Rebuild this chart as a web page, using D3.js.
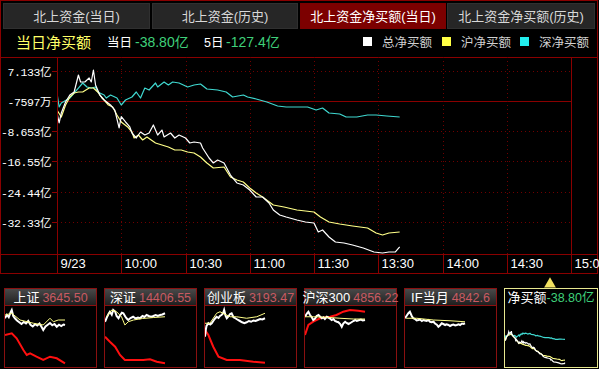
<!DOCTYPE html>
<html><head><meta charset="utf-8">
<script src="https://cdn.jsdelivr.net/npm/d3@7"></script>
<style>
html,body{margin:0;padding:0;background:#000;overflow:hidden}
svg{display:block}
</style></head><body>
<svg id="c" width="599" height="369"></svg>
<script>
// ---- tabs / header ----
const tabNames = ["北上资金(当日)", "北上资金(历史)", "北上资金净买额(当日)", "北上资金净买额(历史)"];
const activeTab = 2;
const titleText = "当日净买额";
const todayNet = -38.80;   // 亿
const fiveDayNet = -127.4; // 亿
const legendNames = ["总净买额", "沪净买额", "深净买额"];

// ---- axes ----
const timeTicks = [0, 30, 60, 90, 120, 150, 180, 210, 240]; // trading minutes from 9:30
const timeLabels = ["9/23", "10:00", "10:30", "11:00", "11:30", "13:30", "14:00", "14:30", "15:00"];
const yTicks = [7.133, -0.7597, -8.653, -16.55, -24.44, -32.33]; // 亿
const yTickLabels = ["7.133亿", "-7597万", "-8.653亿", "-16.55亿", "-24.44亿", "-32.33亿"];

// ---- net buy series (亿), minute offsets from 9:30 ----
const totalMin = [0,1,2,4,6,8,10,11,13,15,16,17,18,20,22,25,27,29,30,32,34,35,37,39,41,43,45,47,49,50,53,55,57,60,62,64,67,68,71,73,75,78,81,84,87,90,93,96,99,101,104,107,112,116,120,122,124,127,130,134,138,143,148,152,155,158,160];
const totalVal = [-3.94,-6.54,-3.94,-1.07,0.75,1.53,5.96,4.14,4.14,5.18,4.14,7.26,3.36,0.75,-0.55,-1.85,-3.16,-7.84,-4.9,-6.28,-7.58,-9.15,-10.45,-8.89,-9.67,-9.15,-7.06,-9.67,-8.37,-10.19,-9.15,-10.45,-9.67,-10.45,-11.75,-11.49,-11.75,-13.05,-15.66,-16.96,-16.18,-16.96,-20.09,-22.17,-22.69,-23.99,-25.82,-25.82,-27.38,-29.2,-30.51,-31.03,-31.81,-32.33,-32.59,-34.93,-34.41,-36.23,-37.54,-37.8,-38.32,-39.1,-40.14,-40.4,-40.14,-40.14,-38.80];
const shMin = [0,2,4,6,8,10,12,15,17,19,21,22,24,26,28,30,33,35,36,38,40,42,44,46,49,52,55,58,61,64,67,70,73,78,81,84,87,90,93,96,101,106,112,120,123,127,132,138,145,149,152,155,160];
const shVal = [-3.16,-4.98,-1.85,0.23,1.27,1.53,1.53,2.57,2.57,1.53,-0.03,-0.55,-1.85,-2.37,-4.46,-6.28,-7.58,-8.89,-10.45,-9.67,-10.97,-10.19,-10.97,-11.75,-12.27,-12.79,-13.58,-13.58,-14.1,-14.36,-15.4,-16.96,-18.26,-18.0,-20.61,-21.39,-21.91,-23.47,-24.78,-25.82,-27.9,-28.42,-29.2,-29.72,-31.03,-32.33,-32.85,-33.37,-33.89,-35.19,-35.71,-35.19,-34.93];
const szMin = [0,1,2,6,8,10,12,14,16,18,19,22,23,25,28,30,32,35,37,39,41,43,46,47,50,52,54,57,59,61,64,67,70,75,79,82,87,89,93,98,103,107,112,117,121,124,127,132,135,140,145,149,154,160];
const szVal = [1.2,-2.37,-1.33,-0.03,1.27,2.57,3.88,2.84,2.57,2.84,1.53,0.75,-0.03,0.75,-0.03,-1.85,-0.55,0.23,1.53,-0.03,2.57,2.05,3.88,2.84,4.14,3.36,4.14,3.88,3.36,2.84,3.36,3.62,2.31,2.05,1.53,0.23,0.75,0.23,-0.29,-1.07,-2.11,-2.37,-2.37,-2.37,-3.16,-2.64,-3.94,-4.2,-4.98,-4.98,-4.46,-4.46,-4.72,-4.98];

// ---- small index panels ----
const miniNames = ["上证", "深证", "创业板", "沪深300", "IF当月", "净买额"];
const miniQuotes = ["3645.50", "14406.55", "3193.47", "4856.22", "4842.6", "-38.80亿"];
// price change (%) and average-price change (%)
const miniPriceMin = [
  [0,5,10,15,18,22,27,32,38,44,50,56,62,68,74,80,86,92,98,102,108,114,120,126,132,138,144,150,156,160],
  [0,5,10,13,18,22,27,31,36,40,45,49,54,58,62,68,75,82,88,93,100,105,111,118,124,129,135,141,147,153,160],
  [0,2,4,9,14,18,22,27,31,36,40,44,48,51,55,58,62,67,71,76,82,88,93,99,105,111,117,123,129,135,141,147,153,160],
  [0,5,9,13,18,22,27,31,36,40,45,49,53,58,62,67,71,76,80,85,89,94,98,102,107,111,116,120,125,129,134,138,143,149,154,160],
  [0,4,9,13,18,22,27,31,36,40,45,49,53,58,62,67,71,76,80,85,89,93,98,102,107,111,116,120,125,129,134,138,143,147,152,156,160]
];
const miniPriceVal = [
  [0.71,0.85,0.75,0.95,1.04,0.80,0.70,0.62,0.55,0.48,0.56,0.50,0.60,0.45,0.38,0.47,0.42,0.50,0.35,0.24,0.38,0.45,0.52,0.43,0.48,0.37,0.45,0.40,0.46,0.44],
  [0.57,0.75,0.90,0.97,0.85,1.04,0.98,0.80,0.71,0.82,0.93,0.91,0.78,0.70,0.64,0.72,0.77,0.70,0.74,0.71,0.80,0.76,0.84,0.79,0.77,0.80,0.84,0.80,0.84,0.86,0.91],
  [-0.03,0.24,0.40,0.51,0.46,0.51,0.60,0.70,0.77,0.72,0.80,0.84,0.90,1.04,0.80,0.71,0.78,0.88,0.91,0.75,0.70,0.64,0.60,0.55,0.51,0.55,0.60,0.57,0.62,0.60,0.64,0.68,0.66,0.71],
  [0.77,0.90,0.97,0.85,0.75,0.64,0.70,0.80,0.84,0.78,0.71,0.75,0.68,0.77,0.74,0.70,0.64,0.68,0.60,0.57,0.55,0.48,0.37,0.50,0.57,0.52,0.48,0.51,0.56,0.60,0.64,0.60,0.63,0.66,0.62,0.64],
  [0.71,0.80,0.91,0.97,0.80,0.71,0.68,0.62,0.64,0.66,0.60,0.64,0.62,0.60,0.64,0.57,0.55,0.57,0.50,0.45,0.37,0.42,0.51,0.48,0.44,0.47,0.44,0.40,0.44,0.46,0.42,0.44,0.47,0.44,0.50,0.48,0.51]
];
const miniAvgMin = [
  [0,18,40,76,102,120,129,142,160],
  [4,18,31,44,53,62,76,100,130,160],
  [0,13,31,40,67,84,111,138,160],
  [0,22,58,93,129,160],
  [3,31,76,120,160]
];
const miniAvgVal = [
  [0.84,0.91,0.64,0.51,0.44,0.71,0.57,0.64,0.64],
  [0.77,1.04,0.97,0.77,0.44,0.57,0.64,0.70,0.74,0.77],
  [0.51,0.51,0.91,0.97,0.77,0.77,0.71,0.77,0.91],
  [0.77,0.77,0.75,0.71,0.68,0.68],
  [0.71,0.71,0.64,0.61,0.57]
];
// index money flow (亿); the futures panel has none
const miniFlowMin = [
  [0,18,31,49,58,67,84,102,120,138,160],
  [0,13,27,40,53,76,102,120,138,160],
  [0,9,22,36,58,93,129,160],
  [0,9,22,40,67,84,102,120,142,160]
];
const miniFlowVal = [
  [1,2.7,-2.3,-14,-19,-17.3,-20.7,-24,-20.7,-22.3,-27.3],
  [-0.7,-5.7,-10.7,-19,-24,-24,-24,-23.3,-25.7,-27.3],
  [6,1,-10.7,-20.7,-24,-24,-25.7,-26.7],
  [1,11,14.3,17.7,19.3,21,24.3,26,25.3,24.3]
];

// ---- colours ----
const C = {
  frame: "#8a0000", grid: "#700000", white: "#ffffff", yellow: "#ffff88", cyan: "#3fd8d0",
  green: "#3fd07a", title: "#ffff66", quote: "#c85a62", red: "#ff1010"
};
const CN = "'Liberation Sans','Noto Sans CJK SC',sans-serif";
const MONO = "'Liberation Mono','Noto Sans CJK SC',monospace";

const svg = d3.select("#c");
svg.append("rect").attr("width", 599).attr("height", 369).attr("fill", "#000");

// ---- tabs ----
const tabL = [3, 152, 300, 447], tabR = [150, 298, 446, 595];
tabNames.forEach((t, i) => {
  svg.append("rect").attr("x", tabL[i] + 0.5).attr("y", 3.5).attr("width", tabR[i] - tabL[i] - 1).attr("height", 25)
    .attr("fill", i === activeTab ? "#7c0000" : "#262626").attr("stroke", i === activeTab ? "#7c0000" : "#303030");
  svg.append("text").attr("x", (tabL[i] + tabR[i]) / 2).attr("y", 21).attr("text-anchor", "middle")
    .attr("font-family", CN).attr("font-size", 13).attr("fill", i === activeTab ? "#ffffff" : "#d8d8d8").text(t);
});

// ---- header line ----
const hdr = svg.append("g").attr("font-family", CN).attr("font-size", 12.5);
hdr.append("text").attr("x", 16).attr("y", 48).attr("font-size", 15).attr("fill", C.title).text(titleText);
hdr.append("text").attr("x", 107).attr("y", 47).attr("fill", "#fff").text("当日");
hdr.append("text").attr("x", 135).attr("y", 47).attr("font-size", 14).attr("fill", C.green).text(todayNet.toFixed(2) + "亿");
hdr.append("text").attr("x", 204).attr("y", 47).attr("fill", "#fff").text("5日");
hdr.append("text").attr("x", 226).attr("y", 47).attr("font-size", 14).attr("fill", C.green).text(fiveDayNet.toFixed(1) + "亿");
const legColors = [C.white, "#ffff44", "#22eeee"];
const legX = [363, 442, 520];
legendNames.forEach((n, i) => {
  hdr.append("rect").attr("x", legX[i]).attr("y", 37).attr("width", 9).attr("height", 9).attr("fill", legColors[i]);
  hdr.append("text").attr("x", legX[i] + 19).attr("y", 47).attr("fill", "#d0d0d0").text(n);
});

// ---- main plot ----
const plotTop = 57, plotBottom = 254, axisBottom = 273, plotLeft = 57;
const x = d3.scaleLinear().domain([0, 240]).range([57, 571]);
const y = d3.scaleLinear().domain([yTicks[0], yTicks[yTicks.length - 1]]).range([70.5, 222]);

const frame = svg.append("g").attr("stroke", C.frame).attr("fill", "none").attr("shape-rendering", "crispEdges");
frame.append("rect").attr("x", 0.5).attr("y", 0.5).attr("width", 597).attr("height", axisBottom);
frame.append("line").attr("x1", 0).attr("x2", 598).attr("y1", plotTop + 0.5).attr("y2", plotTop + 0.5);
frame.append("line").attr("x1", 0).attr("x2", 598).attr("y1", plotBottom + 0.5).attr("y2", plotBottom + 0.5);
frame.append("line").attr("x1", plotLeft + 0.5).attr("x2", plotLeft + 0.5).attr("y1", plotTop).attr("y2", axisBottom);

// dotted grid
const grid = svg.append("g").attr("stroke", C.grid).attr("stroke-dasharray", "1,3").attr("shape-rendering", "crispEdges");
yTicks.forEach((v, i) => {
  if (i === 1) return;
  grid.append("line").attr("x1", plotLeft).attr("x2", x(240)).attr("y1", Math.round(y(v)) + 0.5).attr("y2", Math.round(y(v)) + 0.5);
});
timeTicks.slice(1, -1).forEach(t => {
  grid.append("line").attr("x1", Math.round(x(t)) + 0.5).attr("x2", Math.round(x(t)) + 0.5).attr("y1", plotTop).attr("y2", plotBottom);
});
// base level and closing line
frame.append("line").attr("x1", plotLeft).attr("x2", x(240)).attr("y1", Math.round(y(yTicks[1])) + 0.5).attr("y2", Math.round(y(yTicks[1])) + 0.5);
frame.append("line").attr("x1", Math.round(x(240)) + 0.5).attr("x2", Math.round(x(240)) + 0.5).attr("y1", plotTop).attr("y2", axisBottom);

// y labels + ticks
const yl = svg.append("g");
yTicks.forEach((v, i) => {
  const yy = Math.round(y(v)) + 0.5;
  yl.append("line").attr("x1", 52).attr("x2", 57).attr("y1", yy).attr("y2", yy).attr("stroke", C.frame).attr("shape-rendering", "crispEdges");
  yl.append("text").attr("x", 51).attr("y", yy + 4.5).attr("text-anchor", "end").attr("font-family", MONO)
    .attr("font-size", 11.5).attr("letter-spacing", -0.4).attr("fill", "#fff").text(yTickLabels[i]);
});

// time axis
const xa = svg.append("g");
timeTicks.forEach((t, i) => {
  const xx = Math.round(x(t)) + 0.5;
  xa.append("line").attr("x1", xx).attr("x2", xx).attr("y1", plotBottom).attr("y2", axisBottom)
    .attr("stroke", C.frame).attr("shape-rendering", "crispEdges");
  xa.append("text").attr("x", xx + 3).attr("y", 268).attr("font-family", CN).attr("font-size", 13)
    .attr("fill", "#fff").text(timeLabels[i]);
});

// series lines
svg.append("clipPath").attr("id", "plotClip").append("rect")
  .attr("x", plotLeft + 1).attr("y", plotTop + 1).attr("width", x(240) - plotLeft - 1).attr("height", plotBottom - plotTop - 1);
const line = d3.line().x(d => x(d[0])).y(d => y(d[1]));
const series = [
  { m: szMin, v: szVal, c: C.cyan },
  { m: shMin, v: shVal, c: C.yellow },
  { m: totalMin, v: totalVal, c: C.white }
];
const pg = svg.append("g").attr("clip-path", "url(#plotClip)");
series.forEach(s => {
  pg.append("path").datum(d3.zip(s.m, s.v)).attr("d", line).attr("fill", "none")
    .attr("stroke", s.c).attr("stroke-width", 1.2).attr("stroke-linejoin", "round");
});

// ---- small panels ----
const panelTop = 288, headBottom = 305, panelBottom = 367;
miniNames.forEach((name, i) => {
  const left = 4 + i * 100, width = i === 5 ? 93 : 92;
  const g = svg.append("g");
  const sel = i === 5;
  const grad = "hg" + i;
  const lg = svg.append("defs").append("linearGradient").attr("id", grad).attr("x1", 0).attr("x2", 0).attr("y1", 0).attr("y2", 1);
  lg.append("stop").attr("offset", 0).attr("stop-color", sel ? "#000" : "#4a4a4a");
  lg.append("stop").attr("offset", 1).attr("stop-color", sel ? "#000" : "#1e1e1e");
  g.append("rect").attr("x", left + 0.5).attr("y", panelTop + 0.5).attr("width", width).attr("height", headBottom - panelTop)
    .attr("fill", `url(#${grad})`);
  g.append("rect").attr("x", left + 0.5).attr("y", panelTop + 0.5).attr("width", width).attr("height", panelBottom - panelTop)
    .attr("fill", "none").attr("stroke", sel ? "#e8e890" : "#8a1010").attr("shape-rendering", "crispEdges");
  if (!sel) g.append("line").attr("x1", left).attr("x2", left + width).attr("y1", headBottom + 0.5).attr("y2", headBottom + 0.5)
    .attr("stroke", "#8a1010").attr("shape-rendering", "crispEdges");
  const tx = g.append("text").attr("x", left + width / 2 + 0.5).attr("y", 302).attr("text-anchor", "middle").attr("font-family", CN);
  tx.append("tspan").attr("fill", "#fff").attr("font-size", 13).text(name);
  tx.append("tspan").attr("fill", sel ? C.green : C.quote).attr("font-size", 12.5).attr("dx", sel ? 0 : 3)
    .text(sel ? todayNet.toFixed(2) + "亿" : miniQuotes[i]);

  const mx = d3.scaleLinear().domain([0, 240]).range([left + 1, left + 91]);
  const clipId = "mc" + i;
  svg.append("clipPath").attr("id", clipId).append("rect").attr("x", left + 1).attr("y", headBottom + 1)
    .attr("width", width - 1).attr("height", panelBottom - headBottom - 1);
  const cg = g.append("g").attr("clip-path", `url(#${clipId})`);
  if (sel) {
    const ny = d3.scaleLinear().domain([-45, 45]).range([panelBottom, headBottom]);
    const nl = d3.line().x(d => mx(d[0])).y(d => ny(d[1]));
    series.forEach(s => cg.append("path").datum(d3.zip(s.m, s.v)).attr("d", nl).attr("fill", "none")
      .attr("stroke", s.c).attr("stroke-width", 1.2));
    // selection marker
    svg.append("path").attr("d", d3.symbol(d3.symbolTriangle, 60)())
      .attr("transform", `translate(${left + 46},284)`).attr("fill", "#f0e060");
    return;
  }
  const py = d3.scaleLinear().domain([-1.24, 1.24]).range([panelBottom, headBottom]);
  const pl = d3.line().x(d => mx(d[0])).y(d => py(d[1]));
  if (i < miniFlowMin.length) {
    const fy = d3.scaleLinear().domain([-31, 31]).range([panelBottom, headBottom]);
    const fl = d3.line().x(d => mx(d[0])).y(d => fy(d[1]));
    cg.append("path").datum(d3.zip(miniFlowMin[i], miniFlowVal[i])).attr("d", fl).attr("fill", "none")
      .attr("stroke", C.red).attr("stroke-width", 2);
  }
  cg.append("path").datum(d3.zip(miniPriceMin[i], miniPriceVal[i])).attr("d", pl).attr("fill", "none")
    .attr("stroke", "#fff").attr("stroke-width", 2);
  cg.append("path").datum(d3.zip(miniAvgMin[i], miniAvgVal[i])).attr("d", pl).attr("fill", "none")
    .attr("stroke", C.yellow).attr("stroke-width", 1);
});
</script>
</body></html>
